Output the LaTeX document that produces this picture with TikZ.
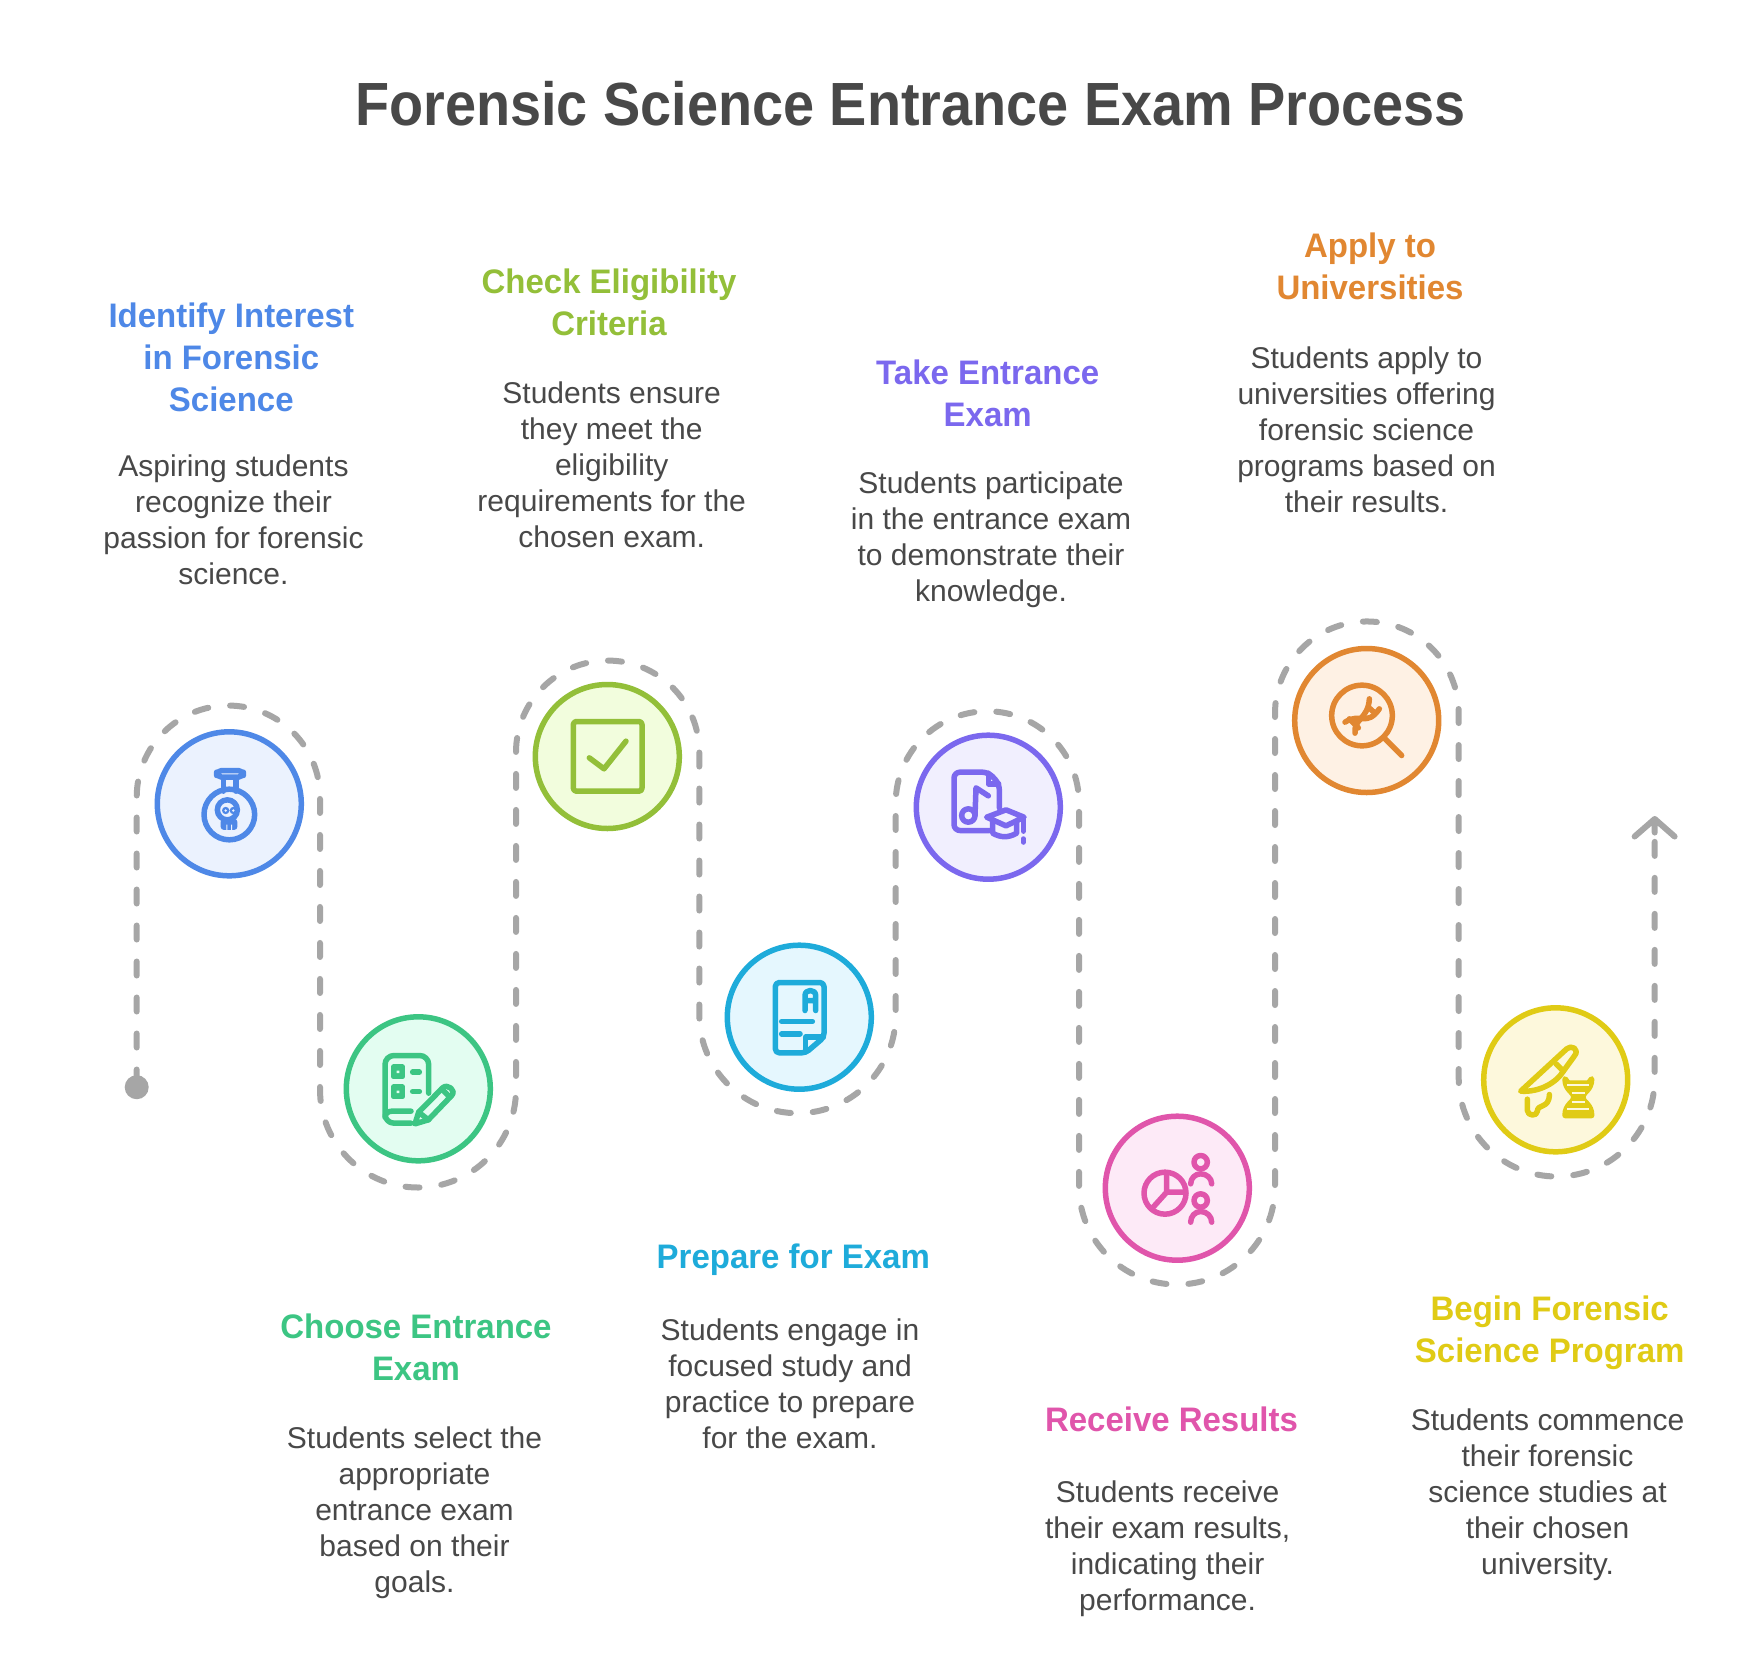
\documentclass[tikz,border=0pt]{standalone}
\usepackage{fontspec}
\setmainfont{Liberation Sans}
\newfontfamily\titlefam[FakeStretch=0.915]{Liberation Sans}
\newfontfamily\headfam[FakeStretch=0.97]{Liberation Sans}
\definecolor{ink}{HTML}{484848}
\definecolor{gry}{HTML}{A6A6A6}
\definecolor{cA}{HTML}{4E88E7}\definecolor{fA}{HTML}{EBF2FE}
\definecolor{cB}{HTML}{3CC583}\definecolor{fB}{HTML}{E3FDF1}
\definecolor{cC}{HTML}{93BF39}\definecolor{fC}{HTML}{F2FDDD}
\definecolor{cD}{HTML}{1EABDA}\definecolor{fD}{HTML}{E5F7FE}
\definecolor{cE}{HTML}{7B68EE}\definecolor{fE}{HTML}{F1EFFE}
\definecolor{cF}{HTML}{E055AB}\definecolor{fF}{HTML}{FDEAF7}
\definecolor{cG}{HTML}{E18731}\definecolor{fG}{HTML}{FEF1E4}
\definecolor{cH}{HTML}{E0CB15}\definecolor{fH}{HTML}{FDF8DC}
\tikzset{
  disc/.style={circle,minimum size=144pt,inner sep=0pt,line width=5.5pt},
  headtxt/.style={align=center,inner sep=0pt,yshift=-5.5pt,font=\headfam\bfseries\fontsize{34}{42}\selectfont,execute at begin node={\strut},execute at end node={\strut}},
  bodytxt/.style={align=center,inner sep=0pt,yshift=-4.6pt,text=ink,font=\fontsize{30}{36}\selectfont,execute at begin node={\strut},execute at end node={\strut}},
  icon/.style={line width=5.5pt,line cap=round,line join=round},
  zoomed/.style={shift={#1},x=0.33333pt,y=-0.33333pt},
  trail/.style={draw=gry,line width=6pt,line cap=round,dash pattern=on 14pt off 22pt},
}
\begin{document}
\begin{tikzpicture}[x=1pt,y=-1pt]
\path[use as bounding box,fill=white] (0,0) rectangle (1752,1670);
\begin{scope}[yshift=-0.5pt]
% way points of the trail
\coordinate (a0) at (136.7,1083);
\coordinate (a1) at (136.7,796.7);
\coordinate (a2) at (320,1089);
\coordinate (a3) at (516,751.7);
\coordinate (a4) at (699.3,1014.5);
\coordinate (a5) at (895.7,802.4);
\coordinate (a6) at (1079,1186);
\coordinate (a7) at (1275,712.8);
\coordinate (a8) at (1458.7,1078);
\coordinate (a9) at (1654.7,840);
\coordinate (a10) at (1654.7,818.5);
\coordinate (s1) at (1654.7,832);
\coordinate (wl) at (1634.6,836);
\coordinate (wr) at (1674.6,836);

\draw[trail] (a0) -- (a1) arc[start angle=180,end angle=0,radius=91.65pt]
  -- (a2) arc[start angle=180,end angle=360,radius=98pt]
  -- (a3) arc[start angle=180,end angle=0,radius=91.65pt]
  -- (a4) arc[start angle=180,end angle=360,radius=98.2pt]
  -- (a5) arc[start angle=180,end angle=0,radius=91.65pt]
  -- (a6) arc[start angle=180,end angle=360,radius=98pt]
  -- (a7) arc[start angle=180,end angle=0,radius=91.85pt]
  -- (a8) arc[start angle=180,end angle=360,radius=98pt]
  -- (a9);
\node[circle,fill=gry,minimum size=24pt,inner sep=0pt] (dot) at (136.7,1086.7) {};
\draw[draw=gry,line width=6pt,line cap=round,line join=round] (s1) -- (a10) (wl) -- (a10) -- (wr);

% discs
\node[disc,draw=cA,fill=fA] (c1) at (229.3,803.3) {};
\node[disc,draw=cB,fill=fB] (c2) at (418.3,1088.3) {};
\node[disc,draw=cC,fill=fC] (c3) at (607.3,756) {};
\node[disc,draw=cD,fill=fD] (c4) at (799.3,1016.7) {};
\node[disc,draw=cE,fill=fE] (c5) at (988.3,806.7) {};
\node[disc,draw=cF,fill=fF] (c6) at (1177.3,1187.7) {};
\node[disc,draw=cG,fill=fG] (c7) at (1366.7,720) {};
\node[disc,draw=cH,fill=fH] (c8) at (1555.7,1079.3) {};

% icon 1: flask with skull
\begin{scope}[zoomed={(120,690)},icon,draw=cA]
  \draw[rounded corners=5pt] (290,240) rectangle (370,260);
  \draw (310,264) -- (310,302) (348,264) -- (348,302);
  \draw (328,372) circle[radius=76];
  \fill[cA,rounded corners=3pt] (302,385) rectangle (352,418);
  \draw[fill=fA] (322,358) circle[radius=30];
  \fill[cA] (317,360) circle[radius=11] (340,360) circle[radius=11];
  \fill[fA] (317,360) circle[radius=4] (340,360) circle[radius=4];
  \fill[fA] (319,402) rectangle (322,418) (333,402) rectangle (336,418);
\end{scope}

% icon 2: checklist and pencil
\begin{scope}[zoomed={(310,980)},icon,draw=cB]
  \draw[rounded corners=9pt] (303,428) -- (225,428) -- (225,225) -- (356,225) -- (356,338);
  \draw (303,392) -- (245,392) to[out=180,in=90] (225,410);
  \draw[fill=cB] (250,260) rectangle (278,288);
  \draw[fill=cB] (250,320) rectangle (278,348);
  \fill[fB] (260,270) rectangle (268,278) (260,330) rectangle (268,338);
  \draw (308,275) -- (328,275) (308,333) -- (328,333);
  \draw (315,430) -- (326,395) -- (398,322) .. controls (412,308) and (440,330) .. (425,345) -- (355,418) -- cycle;
  \draw (395,325) -- (420,350);
  \draw (326,395) -- (355,418);
\end{scope}

% icon 3: check box
\begin{scope}[zoomed={(500,650)},icon,draw=cC]
  \draw[rounded corners=3pt] (220,213) rectangle (426,422);
  \draw (268,322) -- (312,355) -- (378,272);
\end{scope}

% icon 4: marked paper
\begin{scope}[zoomed={(690,920)},icon,draw=cD]
  \draw[rounded corners=4pt] (256,186) -- (402,186) -- (402,350) -- (347,397) -- (256,397) -- cycle;
  \draw (347,394) -- (347,350) -- (400,350);
  \draw (345,270) -- (345,225) to[out=90,in=90,looseness=1.6] (377,225) -- (377,270) (345,240) -- (377,240);
  \draw (275,303) -- (367,303) (275,340) -- (330,340);
\end{scope}

% icon 5: music file with cap
\begin{scope}[zoomed={(880,700)},icon,draw=cE]
  \draw[rounded corners=6pt] (328,390) -- (222,390) -- (222,215) -- (325,215) -- (358,250) -- (358,322);
  \draw (325,218) -- (325,250) -- (356,250);
  \draw (265,345) circle[radius=20];
  \draw (285,345) -- (288,262) -- (325,286);
  \draw[fill=fE] (320,350) -- (378,328) -- (432,350) -- (378,376) -- cycle;
  \draw (338,362) -- (338,398) to[out=-30,in=210] (410,398) -- (410,365);
  \draw (430,352) -- (430,392);
  \draw[line width=4.5pt] (430,414) -- (430,426);
\end{scope}

% icon 6: chart and people
\begin{scope}[zoomed={(1070,1080)},icon,draw=cF]
  \draw (285,338) circle[radius=63];
  \draw (290,278) -- (290,335) -- (345,335) (290,335) -- (245,385);
  \draw (392,245) circle[radius=20] (392,360) circle[radius=20];
  \draw (362,310) to[out=90,in=180] (392,280) to[out=0,in=90] (425,310);
  \draw (362,425) to[out=90,in=180] (392,393) to[out=0,in=90] (425,425);
\end{scope}

% icon 7: lens with DNA
\begin{scope}[zoomed={(1260,610)},icon,draw=cG]
  \draw (306,315) circle[radius=91];
  \draw (372,382) -- (425,435);
  \draw (255,335) .. controls (300,305) and (320,350) .. (358,295);
  \draw (285,368) .. controls (280,325) and (325,325) .. (328,265);
  \draw (268,325) -- (295,352) (325,290) -- (345,308);
\end{scope}

% icon 8: scalpel and DNA
\begin{scope}[zoomed={(1450,980)},icon,draw=cH]
  \draw (212,332) -- (350,205) .. controls (362,192) and (392,205) .. (372,228) -- (340,272) .. controls (320,305) and (270,336) .. cycle;
  \draw (340,272) -- (318,250);
  \draw (232,356) -- (232,390) to[out=-90,in=-90,looseness=1.4] (262,392) .. controls (262,370) and (298,385) .. (298,342);
  \draw[fill=cH] (345,295) .. controls (345,330) and (372,335) .. (372,350) .. controls (372,365) and (345,370) .. (345,405)
    -- (425,405) .. controls (425,370) and (398,365) .. (398,350) .. controls (398,335) and (425,330) .. (425,295)
    -- (415,308) -- (355,308) -- cycle;
  \draw[draw=fH,line width=2pt,line cap=butt] (352,314) -- (418,314) (365,337) -- (405,337) (365,365) -- (405,365) (352,384) -- (418,384);
\end{scope}

% title
\node[inner sep=0pt,text=ink,font=\titlefam\bfseries\fontsize{61}{70}\selectfont] (title) at (910.6,103) {Forensic Science Entrance Exam Process};

% captions
\node[headtxt,text=cA] (h1) at (231.3,357) {Identify Interest\\in Forensic\\Science};
\node[bodytxt] (b1) at (233.5,519.6) {Aspiring students\\recognize their\\passion for forensic\\science.};
\node[headtxt,text=cB] (h2) at (416,1347) {Choose Entrance\\Exam};
\node[bodytxt] (b2) at (414.5,1510) {Students select the\\appropriate\\entrance exam\\based on their\\goals.};
\node[headtxt,text=cC] (h3) at (609,302.8) {Check Eligibility\\Criteria};
\node[bodytxt] (b3) at (611.7,465.4) {Students ensure\\they meet the\\eligibility\\requirements for the\\chosen exam.};
\node[headtxt,text=cD] (h4) at (793.3,1254.5) {Prepare for Exam};
\node[bodytxt] (b4) at (790,1383.8) {Students engage in\\focused study and\\practice to prepare\\for the exam.};
\node[headtxt,text=cE] (h5) at (987.7,393.3) {Take Entrance\\Exam};
\node[bodytxt] (b5) at (991,537.4) {Students participate\\in the entrance exam\\to demonstrate their\\knowledge.};
\node[headtxt,text=cF] (h6) at (1171.5,1417) {Receive Results};
\node[bodytxt] (b6) at (1167.6,1545.8) {Students receive\\their exam results,\\indicating their\\performance.};
\node[headtxt,text=cG] (h7) at (1370,266.5) {Apply to\\Universities};
\node[bodytxt] (b7) at (1366.5,429.6) {Students apply to\\universities offering\\forensic science\\programs based on\\their results.};
\node[headtxt,text=cH] (h8) at (1549.7,1329) {Begin Forensic\\Science Program};
\node[bodytxt] (b8) at (1547.5,1492) {Students commence\\their forensic\\science studies at\\their chosen\\university.};
\end{scope}
\end{tikzpicture}
\end{document}
